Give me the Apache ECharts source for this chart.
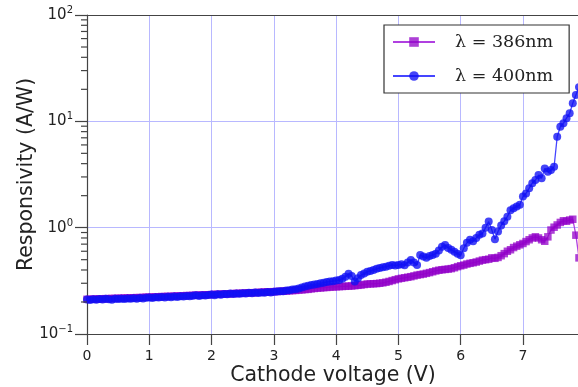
<!DOCTYPE html>
<html>
<head>
<meta charset="utf-8">
<script src="https://cdn.jsdelivr.net/npm/echarts@6/dist/echarts.min.js"></script>
<style>
  html, body { margin: 0; padding: 0; background: #fff; }
  #chart { width: 578px; height: 387px; }
</style>
</head>
<body>
<div id="chart"></div>
<script>
// cathode voltage (V), same sweep for both wavelengths
var voltage = [
  0.00, 0.05, 0.10, 0.15, 0.20, 0.25, 0.30, 0.35, 0.40, 0.45,
  0.50, 0.55, 0.60, 0.65, 0.70, 0.75, 0.80, 0.85, 0.90, 0.95,
  1.00, 1.05, 1.10, 1.15, 1.20, 1.25, 1.30, 1.35, 1.40, 1.45,
  1.50, 1.55, 1.60, 1.65, 1.70, 1.75, 1.80, 1.85, 1.90, 1.95,
  2.00, 2.05, 2.10, 2.15, 2.20, 2.25, 2.30, 2.35, 2.40, 2.45,
  2.50, 2.55, 2.60, 2.65, 2.70, 2.75, 2.80, 2.85, 2.90, 2.95,
  3.00, 3.05, 3.10, 3.15, 3.20, 3.25, 3.30, 3.35, 3.40, 3.45,
  3.50, 3.55, 3.60, 3.65, 3.70, 3.75, 3.80, 3.85, 3.90, 3.95,
  4.00, 4.05, 4.10, 4.15, 4.20, 4.25, 4.30, 4.35, 4.40, 4.45,
  4.50, 4.55, 4.60, 4.65, 4.70, 4.75, 4.80, 4.85, 4.90, 4.95,
  5.00, 5.05, 5.10, 5.15, 5.20, 5.25, 5.30, 5.35, 5.40, 5.45,
  5.50, 5.55, 5.60, 5.65, 5.70, 5.75, 5.80, 5.85, 5.90, 5.95,
  6.00, 6.05, 6.10, 6.15, 6.20, 6.25, 6.30, 6.35, 6.40, 6.45,
  6.50, 6.55, 6.60, 6.65, 6.70, 6.75, 6.80, 6.85, 6.90, 6.95,
  7.00, 7.05, 7.10, 7.15, 7.20, 7.25, 7.30, 7.35, 7.40, 7.45,
  7.50, 7.55, 7.60, 7.65, 7.70, 7.75, 7.80, 7.85, 7.90
];

// responsivity (A/W) at 386 nm
var resp386 = [
  0.212, 0.212, 0.213, 0.213, 0.214, 0.214, 0.215, 0.215, 0.216, 0.216,
  0.217, 0.217, 0.218, 0.218, 0.219, 0.219, 0.220, 0.220, 0.221, 0.222,
  0.222, 0.223, 0.223, 0.224, 0.225, 0.225, 0.226, 0.226, 0.227, 0.228,
  0.228, 0.229, 0.230, 0.230, 0.231, 0.232, 0.232, 0.233, 0.234, 0.234,
  0.235, 0.236, 0.236, 0.237, 0.238, 0.238, 0.239, 0.240, 0.241, 0.241,
  0.242, 0.243, 0.244, 0.244, 0.245, 0.246, 0.247, 0.248, 0.249, 0.249,
  0.250, 0.251, 0.252, 0.253, 0.254, 0.255, 0.256, 0.257, 0.259, 0.260,
  0.262, 0.263, 0.266, 0.268, 0.270, 0.271, 0.273, 0.274, 0.276, 0.277,
  0.278, 0.279, 0.280, 0.281, 0.282, 0.283, 0.285, 0.287, 0.289, 0.292,
  0.295, 0.296, 0.297, 0.298, 0.300, 0.303, 0.307, 0.312, 0.318, 0.324,
  0.330, 0.334, 0.338, 0.342, 0.346, 0.352, 0.358, 0.362, 0.366, 0.372,
  0.378, 0.385, 0.392, 0.398, 0.402, 0.405, 0.408, 0.412, 0.420, 0.430,
  0.438, 0.445, 0.455, 0.462, 0.468, 0.475, 0.485, 0.495, 0.500, 0.505,
  0.520, 0.515, 0.525, 0.545, 0.570, 0.600, 0.620, 0.650, 0.670, 0.690,
  0.710, 0.740, 0.770, 0.800, 0.820, 0.800, 0.770, 0.745, 0.820, 0.950,
  1.010, 1.060, 1.120, 1.160, 1.150, 1.180, 1.200, 0.850, 0.520
];

// responsivity (A/W) at 400 nm
var resp400 = [
  0.211, 0.209, 0.212, 0.210, 0.213, 0.211, 0.214, 0.212, 0.210, 0.214,
  0.213, 0.215, 0.213, 0.216, 0.214, 0.217, 0.215, 0.218, 0.216, 0.219,
  0.221, 0.218, 0.222, 0.220, 0.223, 0.221, 0.224, 0.222, 0.225, 0.223,
  0.227, 0.225, 0.228, 0.226, 0.229, 0.231, 0.228, 0.232, 0.230, 0.233,
  0.235, 0.232, 0.236, 0.234, 0.238, 0.236, 0.240, 0.238, 0.241, 0.239,
  0.242, 0.240, 0.244, 0.242, 0.245, 0.243, 0.246, 0.244, 0.248, 0.246,
  0.249, 0.251, 0.253, 0.252, 0.256, 0.258, 0.262, 0.264, 0.268, 0.274,
  0.280, 0.284, 0.289, 0.292, 0.296, 0.300, 0.304, 0.308, 0.311, 0.314,
  0.318, 0.322, 0.330, 0.345, 0.368, 0.352, 0.312, 0.335, 0.358, 0.370,
  0.385, 0.392, 0.400, 0.410, 0.418, 0.424, 0.430, 0.438, 0.446, 0.440,
  0.446, 0.452, 0.444, 0.470, 0.497, 0.470, 0.446, 0.553, 0.535, 0.520,
  0.540, 0.553, 0.570, 0.610, 0.660, 0.687, 0.645, 0.620, 0.595, 0.570,
  0.550, 0.640, 0.720, 0.770, 0.745, 0.800, 0.860, 0.880, 1.000, 1.140,
  0.950, 0.780, 0.920, 1.050, 1.150, 1.270, 1.460, 1.520, 1.580, 1.640,
  1.960, 2.100, 2.350, 2.620, 2.800, 3.130, 2.910, 3.610, 3.350, 3.480,
  3.740, 7.170, 8.900, 9.580, 10.70, 11.90, 14.80, 17.70, 21.00
];

var seriesNames = ['λ = 386nm', 'λ = 400nm'];
var xTicks = [0, 1, 2, 3, 4, 5, 6, 7];
var yMinorTicks = [0.2, 0.3, 0.4, 0.5, 0.6, 0.7, 0.8, 0.9,
                   2, 3, 4, 5, 6, 7, 8, 9,
                   20, 30, 40, 50, 60, 70, 80, 90];

function pairs(xs, ys) {
  var out = [];
  for (var i = 0; i < xs.length; i++) {
    out.push([xs[i], ys[i]]);
  }
  return out;
}

var axisColor = '#444';
var gridColor = '#b8b8ff';
var textColor = '#222';

var chart = echarts.init(document.getElementById('chart'));

var option = {
  animation: false,
  backgroundColor: '#fff',
  textStyle: { fontFamily: 'DejaVu Sans' },
  grid: { left: 87, top: 15, right: -1, bottom: 53, outerBoundsMode: 'none' },
  legend: {
    data: seriesNames,
    orient: 'vertical',
    left: 384,
    top: 25,
    backgroundColor: '#fff',
    borderColor: '#333',
    borderWidth: 1.2,
    borderRadius: 0,
    padding: [8, 16, 8, 8],
    itemWidth: 42,
    itemHeight: 12,
    itemGap: 16,
    textStyle: {
      fontFamily: 'DejaVu Serif',
      fontSize: 17.5,
      color: textColor,
      padding: [0, 0, 0, 15]
    }
  },
  xAxis: [{
    type: 'value',
    min: 0,
    max: 7.9,
    interval: 1,
    name: 'Cathode voltage (V)',
    nameLocation: 'middle',
    nameGap: 31,
    nameMoveOverlap: false,
    nameTextStyle: { fontSize: 20.5, color: textColor, fontFamily: 'DejaVu Sans' },
    axisLine: { show: true, lineStyle: { color: axisColor, width: 1.2 } },
    axisTick: { show: true, length: 11, customValues: xTicks, lineStyle: { color: axisColor, width: 1.2 } },
    axisLabel: { customValues: xTicks, margin: 15, fontSize: 14, color: textColor, fontFamily: 'DejaVu Sans' },
    splitLine: { show: true, lineStyle: { color: gridColor, type: 'solid', width: 1 } }
  }, {
    type: 'value',
    position: 'top',
    min: 0,
    max: 7.9,
    axisLine: { show: true, lineStyle: { color: axisColor, width: 1.2 } },
    axisTick: { show: false },
    axisLabel: { show: false },
    splitLine: { show: false }
  }],
  yAxis: {
    type: 'log',
    logBase: 10,
    min: 0.1,
    max: 100,
    name: 'Responsivity (A/W)',
    nameLocation: 'middle',
    nameGap: 50,
    nameMoveOverlap: false,
    nameTextStyle: { fontSize: 20.5, color: textColor, fontFamily: 'DejaVu Sans' },
    axisLine: { show: true, lineStyle: { color: axisColor, width: 1.2 } },
    axisTick: { show: true, length: 12, lineStyle: { color: axisColor, width: 1.2 } },
    axisLabel: {
      margin: 14,
      color: textColor,
      formatter: function (v) {
        var e = Math.round(Math.log(v) / Math.LN10);
        return '{b|10}{s|' + (e < 0 ? '\u2212' + (-e) : e) + '}';
      },
      rich: {
        b: { fontSize: 15, color: textColor, fontFamily: 'DejaVu Sans', lineHeight: 18 },
        s: { fontSize: 10, color: textColor, fontFamily: 'DejaVu Sans', padding: [0, 0, 9, 0] }
      }
    },
    splitLine: { show: true, lineStyle: { color: gridColor, type: 'solid', width: 1 } }
  },
  series: [{
    name: seriesNames[0],
    type: 'line',
    data: pairs(voltage, resp386),
    symbol: 'rect',
    symbolSize: 7.5,
    lineStyle: { color: '#b040e0', width: 1.3 },
    itemStyle: { color: 'rgba(145, 0, 200, 0.75)' },
    z: 3
  }, {
    name: seriesNames[1],
    type: 'line',
    data: pairs(voltage, resp400),
    symbol: 'circle',
    symbolSize: 8,
    lineStyle: { color: '#4545ff', width: 1.3 },
    itemStyle: { color: 'rgba(15, 15, 245, 0.78)' },
    z: 4
  }, {
    // minor ticks of the log axis
    type: 'custom',
    silent: true,
    clip: false,
    data: yMinorTicks.map(function (v) { return [0, v]; }),
    renderItem: function (params, api) {
      var p = api.coord([0, api.value(1)]);
      return {
        type: 'line',
        shape: { x1: p[0] - 6, y1: p[1], x2: p[0], y2: p[1] },
        style: { stroke: axisColor, lineWidth: 1.2 }
      };
    },
    z: 5
  }]
};

chart.setOption(option);
</script>
</body>
</html>
